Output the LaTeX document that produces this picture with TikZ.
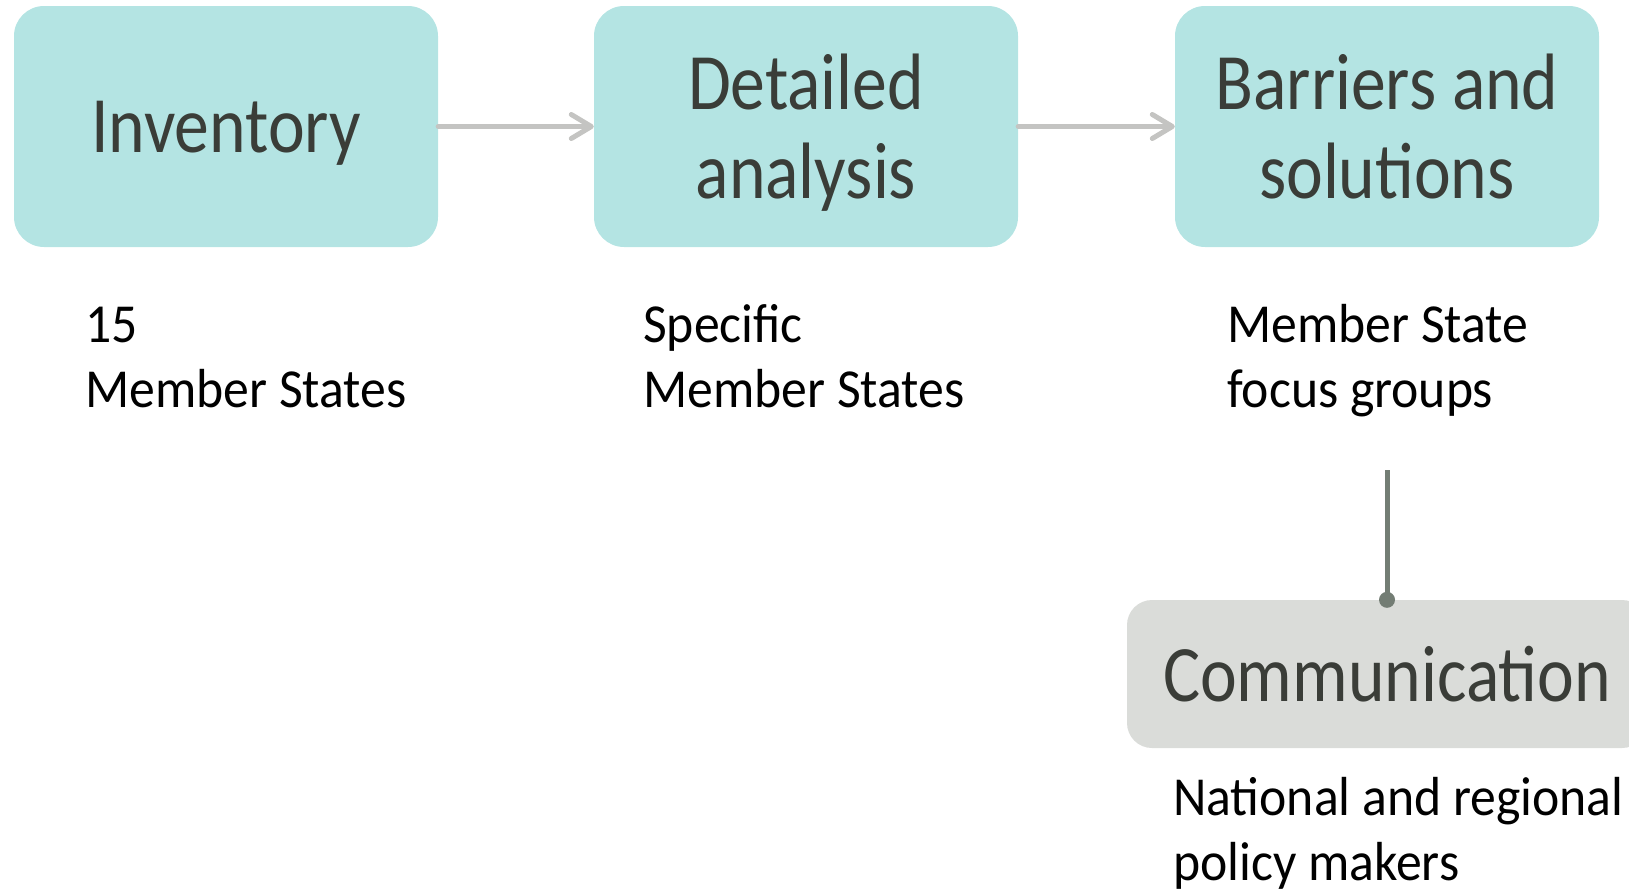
\documentclass[tikz,border=0pt]{standalone}
\usepackage{fontspec}
\setmainfont[FakeStretch=0.87]{Carlito}
\newfontfamily\notefont[FakeStretch=0.94]{Carlito}
\usetikzlibrary{arrows.meta}
\definecolor{boxteal}{HTML}{B4E4E3}
\definecolor{boxgrey}{HTML}{DADCD9}
\definecolor{arrowgrey}{HTML}{C4C4C2}
\definecolor{linegrey}{HTML}{737D74}
\definecolor{boxtext}{HTML}{3A3D38}
\begin{document}
\begin{tikzpicture}[x=1pt,y=-1pt,
  stage/.style={fill=boxteal,rounded corners=30pt,minimum width=424pt,minimum height=241pt,
    inner sep=0pt,align=center,text=boxtext,text depth=0pt,font=\fontsize{80}{89}\selectfont},
  note/.style={anchor=base west,align=left,inner sep=0pt,text=black,font=\notefont\fontsize{55}{65}\selectfont},
  flow/.style={arrowgrey,line width=5pt,line cap=round,-{Straight Barb[length=20pt,width=24pt,round]}},
  link/.style={linegrey,line width=5pt}]
\clip (0,0) rectangle (1629,889);

\node[stage] (inv) at (226,126.5) {Inventory};
\node[stage] (det) at (806,126.5) {Detailed\\analysis};
\node[stage] (bar) at (1387,126.5) {Barriers and\\solutions};
\node[stage,fill=boxgrey,rounded corners=25pt,minimum width=520pt,minimum height=148pt] (com) at (1387,674) {Communication};

\node[note] (invnote) at (85,407) {15\\Member States};
\node[note] (detnote) at (643,407) {Specific\\Member States};
\node[note] (barnote) at (1227,407) {Member State\\focus groups};
\node[note] (comnote) at (1173,880) {National and regional\\policy makers};

\draw[flow] (inv) -- (det);
\draw[flow] (det) -- (bar);

\coordinate (fg) at (1387,470);
\draw[link] (fg) -- (com.north);
\fill[linegrey] (com.north) circle (8pt);
\end{tikzpicture}
\end{document}
